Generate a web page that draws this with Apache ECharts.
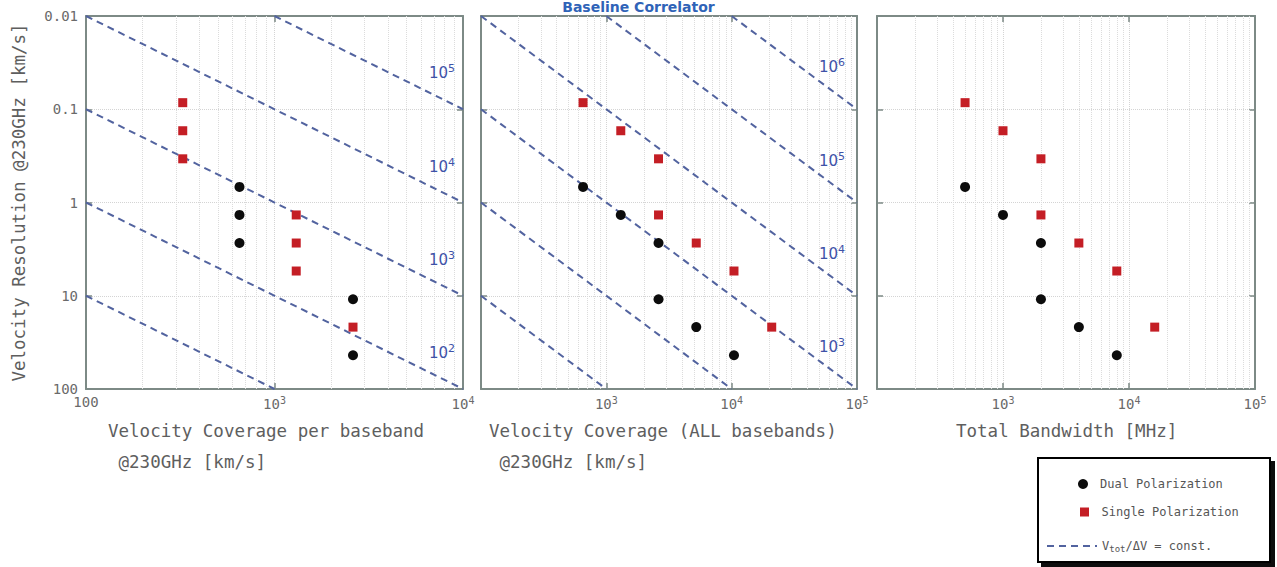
<!DOCTYPE html>
<html>
<head>
<meta charset="utf-8">
<script src="https://cdn.jsdelivr.net/npm/echarts@6/dist/echarts.min.js"></script>
<style>html,body{margin:0;padding:0;background:#fff;}#c{width:1277px;height:567px;}</style>
</head>
<body>
<div id="c"></div>
<script>
// ---------- data ----------
const yTicks = [0.01, 0.1, 1, 10, 100];

// Panel 1: velocity coverage per baseband [km/s] vs resolution [km/s]
const p1DualX = [652, 652, 652, 2609, 2609];
const p1DualY = [0.68, 1.36, 2.72, 10.9, 43.5];
const p1SingleX = [326, 326, 326, 1304, 1304, 1304, 2609];
const p1SingleY = [0.085, 0.17, 0.34, 1.36, 2.72, 5.43, 21.7];

// Panel 2: velocity coverage (all basebands)
const p2DualX = [652, 1304, 2609, 2609, 5217, 10435];
const p2DualY = [0.68, 1.36, 2.72, 10.9, 21.7, 43.5];
const p2SingleX = [652, 1304, 2609, 2609, 5217, 10435, 20870];
const p2SingleY = [0.085, 0.17, 0.34, 1.36, 2.72, 5.43, 21.7];

// Panel 3: total bandwidth [MHz]
const p3DualX = [500, 1000, 2000, 2000, 4000, 8000];
const p3DualY = [0.68, 1.36, 2.72, 10.9, 21.7, 43.5];
const p3SingleX = [500, 1000, 2000, 2000, 4000, 8000, 16000];
const p3SingleY = [0.085, 0.17, 0.34, 1.36, 2.72, 5.43, 21.7];

// V_tot/dV = const lines (end points) and their labels (exponent)
const p1ConstExp = [5, 4, 3, 2, null];
const p1ConstPts = [
  [[1000, 0.01], [10000, 0.1]],
  [[100, 0.01], [10000, 1]],
  [[100, 0.1], [10000, 10]],
  [[100, 1], [10000, 100]],
  [[100, 10], [1000, 100]]
];
const p2ConstExp = [6, 5, 4, 3, null, null];
const p2ConstPts = [
  [[10000, 0.01], [100000, 0.1]],
  [[1000, 0.01], [100000, 1]],
  [[100, 0.01], [100000, 10]],
  [[100, 0.1], [100000, 100]],
  [[100, 1], [10000, 100]],
  [[100, 10], [1000, 100]]
];

const xRanges = [[100, 10000], [100, 100000], [100, 100000]];

// ---------- styling ----------
const MONO = '"DejaVu Sans Mono", monospace';
const FRAME = '#7d8a86';
const DASH = '#52639f';
const RED = '#c41e25';
const sup = {
  b: {fontSize: 14, color: '#6a6a6a', fontFamily: MONO},
  s: {fontSize: 10, color: '#6a6a6a', fontFamily: MONO, padding: [0, 0, 8, 0]}
};
const supBlue = {
  b: {fontSize: 15, color: '#3e52a8', fontFamily: 'DejaVu Sans'},
  s: {fontSize: 11, color: '#3e52a8', fontFamily: 'DejaVu Sans', padding: [0, 0, 9, 0]}
};

const grids = [
  {left: 86, top: 16, width: 377, height: 373},
  {left: 481, top: 16, width: 376, height: 373},
  {left: 877, top: 16, width: 378, height: 373}
];

function expOf(v) { return Math.round(Math.log10(v)); }

const xAxis = [], yAxis = [];
for (let i = 0; i < 3; i++) {
  xAxis.push({
    type: 'log', logBase: 10, gridIndex: i, position: 'bottom',
    min: xRanges[i][0], max: xRanges[i][1],
    axisLine: {show: true, lineStyle: {color: FRAME, width: 2}},
    axisTick: {show: true, inside: true, length: 6, lineStyle: {color: FRAME, width: 1.5}},
    splitLine: {show: true, lineStyle: {color: '#d4d4d4', type: 'dotted', width: 1}},
    axisLabel: {
      margin: 6,
      formatter: function (v) {
        const e = expOf(v);
        if (i === 0 && e === 2) return '{b|100}';
        if (i > 0 && e === 2) return '';
        return '{b|10}{s|' + e + '}';
      },
      rich: sup
    }
  });
  yAxis.push({
    type: 'log', logBase: 10, gridIndex: i, inverse: true, position: 'left',
    min: 0.01, max: 100,
    axisLine: {show: true, lineStyle: {color: FRAME, width: 2}},
    axisTick: {show: true, inside: true, length: 6, lineStyle: {color: FRAME, width: 1.5}},
    splitLine: {show: true, lineStyle: {color: '#d4d4d4', type: 'dotted', width: 1}},
    axisLabel: {
      show: i === 0, margin: 8,
      color: '#6a6a6a', fontFamily: MONO, fontSize: 14,
      formatter: function (v) {
        const e = expOf(v);
        return String(yTicks.find(t => expOf(t) === e));
      }
    },
    name: i === 0 ? 'Velocity Resolution @230GHz [km/s]' : '',
    nameLocation: 'middle', nameRotate: 90, nameGap: 58,
    nameTextStyle: {color: '#5e5e5e', fontFamily: MONO, fontSize: 17.5}
  });
}
for (let i = 0; i < 3; i++) {
  xAxis.push({
    type: 'log', logBase: 10, gridIndex: i, position: 'top',
    min: xRanges[i][0], max: xRanges[i][1],
    axisLine: {show: true, lineStyle: {color: FRAME, width: 2}},
    axisTick: {show: true, inside: true, length: 6, lineStyle: {color: FRAME, width: 1.5}},
    axisLabel: {show: false}, splitLine: {show: false}
  });
  yAxis.push({
    type: 'log', logBase: 10, gridIndex: i, inverse: true, position: 'right',
    min: 0.01, max: 100,
    axisLine: {show: true, lineStyle: {color: FRAME, width: 2}},
    axisTick: {show: true, inside: true, length: 6, lineStyle: {color: FRAME, width: 1.5}},
    axisLabel: {show: false}, splitLine: {show: false}
  });
}

// minor vertical grid values derived from the axis decades
function minorValues(range) {
  const out = [];
  for (let e = expOf(range[0]); e < expOf(range[1]); e++) {
    for (let m = 2; m <= 9; m++) out.push(m * Math.pow(10, e));
  }
  return out;
}

const CONST_NAME = 'Vtot/ΔV = const.';
const DUAL_NAME = 'Dual Polarization';
const SINGLE_NAME = 'Single Polarization';

const series = [];
function zip(xs, ys) { return xs.map((x, k) => [x, ys[k]]); }

function addConst(gi, pts, exps) {
  pts.forEach((p, k) => {
    const e = exps[k];
    series.push({
      name: CONST_NAME, type: 'line', xAxisIndex: gi, yAxisIndex: gi,
      data: p, symbol: 'none', silent: true, z: 2,
      itemStyle: {color: DASH},
      lineStyle: {color: DASH, width: 2, type: [7, 5]},
      endLabel: e === null ? {show: false} : {
        show: true, distance: 0, align: 'center', verticalAlign: 'middle',
        offset: [gi === 0 ? -21 : -25, gi === 0 ? -36 : -42],
        formatter: '{b|10}{s|' + e + '}', rich: supBlue
      }
    });
  });
}

const panels = [
  [p1DualX, p1DualY, p1SingleX, p1SingleY],
  [p2DualX, p2DualY, p2SingleX, p2SingleY],
  [p3DualX, p3DualY, p3SingleX, p3SingleY]
];

addConst(0, p1ConstPts, p1ConstExp);
addConst(1, p2ConstPts, p2ConstExp);

panels.forEach((pd, gi) => {
  series.push({
    name: DUAL_NAME, type: 'scatter', xAxisIndex: gi, yAxisIndex: gi,
    data: zip(pd[0], pd[1]), symbol: 'circle', symbolSize: 10, z: 5,
    itemStyle: {color: '#0c0c0c', opacity: 1},
    markLine: {
      silent: true, symbol: 'none', label: {show: false}, z: 1,
      lineStyle: {color: '#dcdcdc', type: 'dotted', width: 1},
      data: minorValues(xRanges[gi]).map(v => ({xAxis: v}))
    }
  });
  series.push({
    name: SINGLE_NAME, type: 'scatter', xAxisIndex: gi, yAxisIndex: gi,
    data: zip(pd[2], pd[3]), symbol: 'rect', symbolSize: 9, z: 5,
    itemStyle: {color: RED, opacity: 1}
  });
});

const nameStyle = {color: '#5e5e5e', fontFamily: MONO, fontSize: 17.5, fontWeight: 'normal', lineHeight: 31};
const legendText = {color: '#555', fontFamily: MONO, fontSize: 12};

const option = {
  backgroundColor: '#fff',
  animation: false,
  title: [
    {text: 'Baseline Correlator', left: 'center', top: 0, padding: 0,
     textStyle: {color: '#2f63b8', fontSize: 14, fontWeight: 'bold', fontFamily: 'DejaVu Sans'}},
    {text: 'Velocity Coverage per baseband\n @230GHz [km/s]', left: 103, top: 410, textStyle: nameStyle},
    {text: 'Velocity Coverage (ALL basebands)\n @230GHz [km/s]', left: 484, top: 410, textStyle: nameStyle},
    {text: 'Total Bandwidth [MHz]', left: 951, top: 410, textStyle: nameStyle}
  ],
  grid: grids,
  xAxis: xAxis,
  yAxis: yAxis,
  graphic: [{
    type: 'rect', left: 1037, top: 457, z: 50,
    shape: {width: 232, height: 104},
    style: {fill: '#fff', stroke: '#000', lineWidth: 2, shadowColor: '#111', shadowOffsetX: 4, shadowOffsetY: 4, shadowBlur: 0}
  }],
  legend: [
    {data: [DUAL_NAME], left: 1073, top: 473, itemWidth: 24, itemHeight: 10, z: 60,
     itemStyle: {opacity: 1}, textStyle: legendText, selectedMode: false},
    {data: [{name: SINGLE_NAME, icon: 'path://M0,0L10,0L10,10L0,10Z'}], left: 1075, top: 501,
     itemWidth: 24, itemHeight: 9, z: 60, itemStyle: {opacity: 1}, textStyle: legendText, selectedMode: false},
    {data: [CONST_NAME], left: 1041, top: 535, itemWidth: 50, itemHeight: 14, z: 60,
     itemStyle: {color: 'rgba(0,0,0,0)', borderWidth: 0, opacity: 0},
     textStyle: Object.assign({}, legendText, {
       rich: {v: legendText,
              sub: {color: '#555', fontFamily: MONO, fontSize: 9, padding: [6, 0, 0, 0]}}}),
     formatter: function () { return '{v|V}{sub|tot}{v|/ΔV = const.}'; },
     selectedMode: false}
  ],
  series: series
};

const chart = echarts.init(document.getElementById('c'), null, {renderer: 'svg', width: 1277, height: 567});
chart.setOption(option);
</script>
</body>
</html>
